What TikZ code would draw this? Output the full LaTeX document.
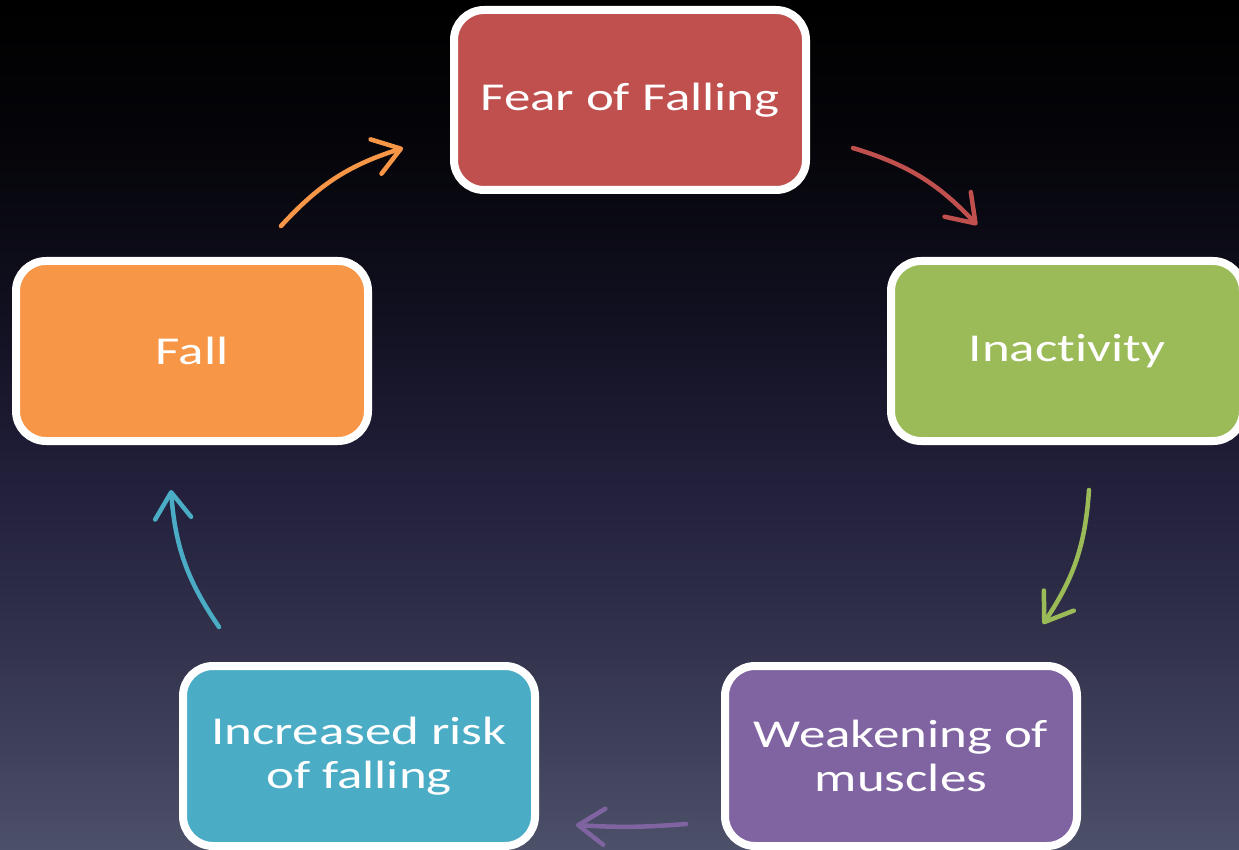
\documentclass[tikz,border=0pt]{standalone}
\usepackage{fontspec}
\setmainfont{Carlito}
\newfontfamily\boxfont[FakeStretch=1.34, Ligatures={NoCommon}]{Carlito}
\usetikzlibrary{arrows.meta}
\definecolor{bgA}{HTML}{4C5068}
\definecolor{bgB}{HTML}{33334D}
\definecolor{bgC}{HTML}{23213D}
\definecolor{bgD}{HTML}{100F1E}
\definecolor{bgE}{HTML}{05050A}
\definecolor{cred}{HTML}{C0504D}
\definecolor{cgreen}{HTML}{9BBB59}
\definecolor{cpurple}{HTML}{8064A2}
\definecolor{cteal}{HTML}{4BACC6}
\definecolor{corange}{HTML}{F79646}
\pgfdeclareverticalshading{bgshade}{100bp}{color(0bp)=(bgA); color(25bp)=(bgA); color(36.76bp)=(bgB); color(45.59bp)=(bgC); color(57.35bp)=(bgD); color(66.18bp)=(bgE); color(75bp)=(black); color(100bp)=(black)}
\tikzset{
  box/.style={draw=white, line width=8pt, rounded corners=30pt, minimum width=352pt, minimum height=180pt,
    text=white, align=center, font=\boxfont\fontsize{39.5}{44}\selectfont, inner sep=0pt},
  cyc/.style={line width=4.5pt, line cap=round, -{Straight Barb[length=26pt,width=36pt,line cap=round,line join=round]}, bend left=#1},
  cyc/.default=15
}
\begin{document}
\begin{tikzpicture}[x=1pt,y=-1pt]
\clip (0,0) rectangle (1239,850);
\shade[shading=bgshade] (0,0) rectangle (1239,850);
\node[box, fill=cred] (fear) at (630,100) {Fear of Falling};
\node[box, fill=cgreen] (inact) at (1067,351) {Inactivity};
\node[box, fill=cpurple] (weak) at (901,756) {Weakening of\\muscles};
\node[box, fill=cteal] (risk) at (359,756) {Increased risk\\of falling};
\node[box, fill=corange] (fall) at (192,351) {Fall};
\coordinate (a1s) at (853,148); \coordinate (a1e) at (977,225);
\coordinate (a2s) at (1089,490); \coordinate (a2e) at (1043,624);
\coordinate (a3s) at (686,824); \coordinate (a3e) at (576,825);
\coordinate (a4s) at (219,627); \coordinate (a4e) at (171,490);
\coordinate (a5s) at (281,226); \coordinate (a5e) at (403,148);
\draw[cyc, draw=cred] (a1s) to (a1e);
\draw[cyc, draw=cgreen] (a2s) to (a2e);
\draw[cyc=4, draw=cpurple] (a3s) to (a3e);
\draw[cyc, draw=cteal] (a4s) to (a4e);
\draw[cyc, draw=corange] (a5s) to (a5e);
\end{tikzpicture}
\end{document}
